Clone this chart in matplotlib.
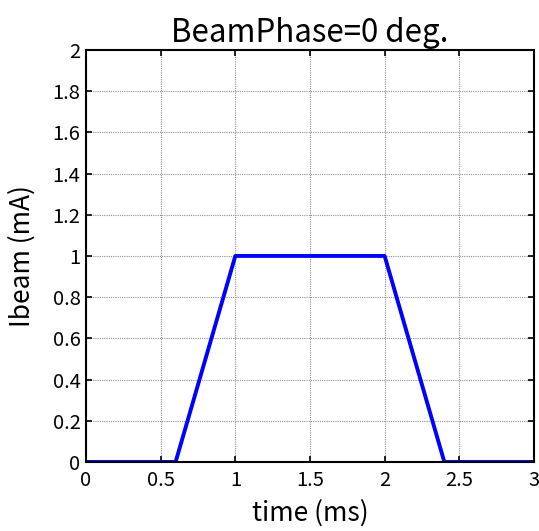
import numpy as np
import matplotlib
matplotlib.use("Agg")
import matplotlib.pyplot as plt

plt.rcParams['font.family'] = ['Noto Sans CJK JP', 'DejaVu Sans']

# beam current pulse (trapezoid)
time_ms = [0.0, 0.6, 1.0, 2.0, 2.4, 3.0]
ibeam_ma = [0.0, 0.0, 1.0, 1.0, 0.0, 0.0]

xticks = [0, 0.5, 1, 1.5, 2, 2.5, 3]
yticks = [0, 0.2, 0.4, 0.6, 0.8, 1, 1.2, 1.4, 1.6, 1.8, 2]

fig = plt.figure(figsize=(5.39, 5.31), dpi=100)
ax = fig.add_axes([0.1596, 0.130, 0.831, 0.776])

ax.plot(time_ms, ibeam_ma, color="#0000ff", lw=2.8, solid_capstyle="butt")

ax.set_xlim(0, 3)
ax.set_ylim(0, 2)
ax.set_xticks(xticks)
ax.set_xticklabels(["0", "0.5", "1", "1.5", "2", "2.5", "3"])
ax.set_yticks(yticks)
ax.set_yticklabels(["0", "0.2", "0.4", "0.6", "0.8", "1", "1.2", "1.4", "1.6", "1.8", "2"])
ax.grid(True, color="#909090", linestyle=(0, (1, 1)), linewidth=0.8)
ax.tick_params(axis="x", pad=6)
ax.tick_params(direction="in", length=4, width=1.2, labelsize=14.5, top=True, right=True)
ax.tick_params(axis="y", pad=4)
for s in ax.spines.values():
    s.set_linewidth(1.5)

ax.set_title("BeamPhase=0 deg.", fontsize=22.5, pad=6)
ax.set_xlabel("time (ms)", fontsize=19, labelpad=6)
ax.set_ylabel("Ibeam (mA)", fontsize=19, labelpad=12)

fig.savefig("out.png", dpi=100)
